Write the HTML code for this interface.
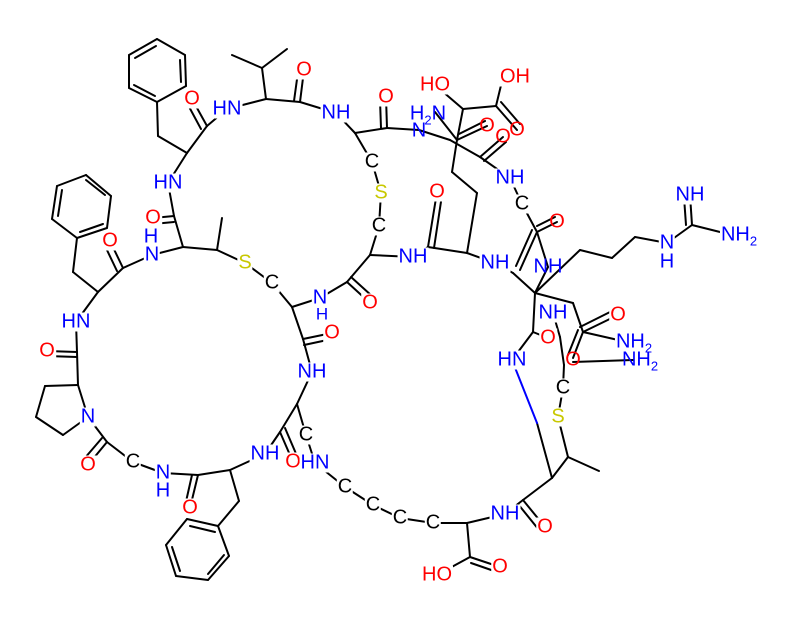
<!DOCTYPE html>
<html><head><meta charset="utf-8"><style>
html,body{margin:0;padding:0;background:#fff}
#w{position:relative;width:788px;height:622px;overflow:hidden}
svg{display:block;position:absolute;left:0;top:0}
line{stroke:#000;stroke-width:2;stroke-linecap:round}
.l{position:absolute;transform:translate(-50%,-50%);font-family:"Liberation Sans","DejaVu Sans",sans-serif;font-size:20px;line-height:19px;white-space:nowrap;background:#fff;padding:0 1px}
.l sub{font-size:13px;vertical-align:-5px;line-height:0}
.N{color:#0000ff}.O{color:#ff0000}.S{color:#c8c800}.C{color:#000}
.t{background:transparent}
</style></head><body><div id="w">
<svg width="788" height="622" viewBox="0 0 788 622" xmlns="http://www.w3.org/2000/svg">
<line x1="157" y1="39" x2="185" y2="55"/><line x1="185" y1="55" x2="186" y2="86"/><line x1="186" y1="86" x2="157" y2="102"/>
<line x1="157" y1="102" x2="129" y2="88"/><line x1="129" y1="88" x2="129" y2="55"/><line x1="129" y1="55" x2="157" y2="39"/>
<line x1="180" y1="60" x2="181" y2="82"/><line x1="155" y1="96" x2="134" y2="85"/><line x1="135" y1="58" x2="156" y2="46"/>
<line x1="157" y1="102" x2="158" y2="136"/><line x1="158" y1="136" x2="187" y2="153"/>
<line x1="187" y1="153" x2="207" y2="126"/><line x1="207" y1="126" x2="192" y2="99"/><line x1="201" y1="129" x2="187" y2="103"/>
<line x1="207" y1="126" x2="227" y2="109"/><line x1="227" y1="109" x2="266" y2="99"/>
<line x1="266" y1="99" x2="262" y2="68"/><line x1="262" y1="68" x2="232" y2="55"/><line x1="262" y1="68" x2="287" y2="49"/>
<line x1="266" y1="99" x2="300" y2="102"/><line x1="300" y1="102" x2="304" y2="70"/><line x1="294" y1="101" x2="298" y2="72"/>
<line x1="300" y1="102" x2="336" y2="113"/><line x1="336" y1="113" x2="355" y2="133"/>
<line x1="355" y1="133" x2="387" y2="128"/><line x1="387" y1="128" x2="386" y2="97"/><line x1="381" y1="128" x2="380" y2="100"/>
<line x1="387" y1="128" x2="419" y2="130"/>
<line x1="355" y1="133" x2="372" y2="162"/><line x1="372" y1="162" x2="381" y2="193"/><line x1="381" y1="193" x2="379" y2="226"/><line x1="379" y1="226" x2="370" y2="255"/>
<line x1="370" y1="255" x2="413" y2="257"/><line x1="370" y1="255" x2="347" y2="282"/>
<line x1="347" y1="282" x2="370" y2="303"/><line x1="351" y1="277" x2="372" y2="296"/>
<line x1="347" y1="282" x2="320" y2="298"/><line x1="320" y1="298" x2="292" y2="307"/>
<line x1="187" y1="153" x2="168" y2="183"/><line x1="168" y1="183" x2="174" y2="216"/>
<line x1="174" y1="216" x2="153" y2="218"/><line x1="174" y1="222" x2="153" y2="224"/>
<line x1="174" y1="216" x2="183" y2="247"/><line x1="183" y1="247" x2="217" y2="250"/>
<line x1="217" y1="250" x2="222" y2="218"/><line x1="217" y1="250" x2="245" y2="263"/><line x1="245" y1="263" x2="272" y2="283"/><line x1="272" y1="283" x2="292" y2="307"/>
<line x1="183" y1="247" x2="152" y2="255"/><line x1="152" y1="255" x2="123" y2="268"/>
<line x1="123" y1="268" x2="110" y2="241"/><line x1="117" y1="271" x2="106" y2="248"/>
<line x1="123" y1="268" x2="98" y2="292"/>
<line x1="98" y1="292" x2="73" y2="272"/><line x1="73" y1="272" x2="77" y2="238"/>
<line x1="77" y1="238" x2="107" y2="228"/><line x1="107" y1="228" x2="111" y2="196"/><line x1="111" y1="196" x2="86" y2="175"/>
<line x1="86" y1="175" x2="57" y2="186"/><line x1="57" y1="186" x2="52" y2="219"/><line x1="52" y1="219" x2="77" y2="238"/>
<line x1="80" y1="232" x2="103" y2="224"/><line x1="105" y1="195" x2="86" y2="180"/><line x1="62" y1="190" x2="58" y2="216"/>
<line x1="98" y1="292" x2="76" y2="322"/><line x1="76" y1="322" x2="77" y2="352"/>
<line x1="77" y1="352" x2="47" y2="351"/><line x1="77" y1="357" x2="47" y2="356"/>
<line x1="77" y1="352" x2="78" y2="385"/>
<line x1="78" y1="385" x2="45" y2="386"/><line x1="45" y1="386" x2="36" y2="417"/><line x1="36" y1="417" x2="63" y2="435"/><line x1="63" y1="435" x2="88" y2="417"/><line x1="88" y1="417" x2="78" y2="385"/>
<line x1="88" y1="417" x2="107" y2="442"/><line x1="107" y1="442" x2="88" y2="465"/><line x1="102" y1="438" x2="84" y2="459"/>
<line x1="107" y1="442" x2="133" y2="462"/><line x1="133" y1="462" x2="163" y2="473"/><line x1="163" y1="473" x2="198" y2="475"/>
<line x1="198" y1="475" x2="190" y2="508"/><line x1="192" y1="475" x2="185" y2="506"/>
<line x1="198" y1="475" x2="230" y2="470"/>
<line x1="230" y1="470" x2="239" y2="501"/><line x1="239" y1="501" x2="218" y2="526"/>
<line x1="218" y1="526" x2="187" y2="519"/><line x1="187" y1="519" x2="166" y2="545"/><line x1="166" y1="545" x2="176" y2="576"/>
<line x1="176" y1="576" x2="208" y2="580"/><line x1="208" y1="580" x2="229" y2="556"/><line x1="229" y1="556" x2="218" y2="526"/>
<line x1="215" y1="532" x2="190" y2="526"/><line x1="172" y1="547" x2="180" y2="571"/><line x1="208" y1="574" x2="224" y2="555"/>
<line x1="230" y1="470" x2="265" y2="454"/><line x1="265" y1="454" x2="280" y2="432"/>
<line x1="280" y1="432" x2="293" y2="462"/><line x1="285" y1="428" x2="297" y2="456"/>
<line x1="280" y1="432" x2="297" y2="404"/>
<line x1="297" y1="404" x2="312" y2="372"/><line x1="312" y1="372" x2="303" y2="339"/>
<line x1="303" y1="339" x2="332" y2="333"/><line x1="304" y1="345" x2="332" y2="339"/>
<line x1="303" y1="339" x2="292" y2="307"/>
<line x1="297" y1="404" x2="306" y2="435"/><line x1="306" y1="435" x2="315" y2="463"/><line x1="315" y1="463" x2="345" y2="487"/>
<line x1="345" y1="487" x2="373" y2="505"/><line x1="373" y1="505" x2="400" y2="518"/><line x1="400" y1="518" x2="433" y2="523"/><line x1="433" y1="523" x2="467" y2="523"/>
<line x1="467" y1="523" x2="470" y2="557"/><line x1="470" y1="557" x2="500" y2="567"/><line x1="471" y1="563" x2="497" y2="572"/>
<line x1="470" y1="557" x2="437" y2="575"/>
<line x1="467" y1="523" x2="505" y2="514"/><line x1="505" y1="514" x2="523" y2="500"/>
<line x1="523" y1="500" x2="545" y2="527"/><line x1="518" y1="504" x2="539" y2="530"/>
<line x1="523" y1="500" x2="552" y2="478"/>
<line x1="552" y1="478" x2="568" y2="457"/><line x1="568" y1="457" x2="599" y2="471"/>
<line x1="568" y1="457" x2="558" y2="417"/><line x1="558" y1="417" x2="563" y2="388"/><line x1="563" y1="388" x2="564" y2="365"/>
<line x1="564" y1="365" x2="560" y2="337"/><line x1="560" y1="337" x2="553" y2="313"/>
<line x1="552" y1="478" x2="537" y2="423"/><line x1="537" y1="423" x2="512" y2="360" style="stroke:#0000ff"/>
<line x1="512" y1="360" x2="533" y2="332"/><line x1="533" y1="332" x2="548" y2="338"/><line x1="533" y1="332" x2="535" y2="293"/>
<line x1="535" y1="293" x2="573" y2="303"/><line x1="573" y1="303" x2="583" y2="332"/>
<line x1="583" y1="332" x2="618" y2="315"/><line x1="580" y1="327" x2="614" y2="310"/>
<line x1="583" y1="332" x2="627" y2="342"/>
<line x1="583" y1="332" x2="573" y2="358"/><line x1="578" y1="330" x2="568" y2="355"/>
<line x1="573" y1="362" x2="633" y2="360"/>
<line x1="535" y1="293" x2="580" y2="250"/><line x1="580" y1="250" x2="612" y2="258"/><line x1="612" y1="258" x2="635" y2="237"/>
<line x1="635" y1="237" x2="667" y2="243"/><line x1="667" y1="243" x2="692" y2="225"/>
<line x1="692" y1="225" x2="690" y2="195"/><line x1="686" y1="225" x2="684" y2="197"/>
<line x1="692" y1="225" x2="732" y2="235"/>
<line x1="535" y1="293" x2="513" y2="273"/><line x1="513" y1="273" x2="495" y2="263"/><line x1="495" y1="263" x2="467" y2="253"/>
<line x1="467" y1="253" x2="428" y2="247"/><line x1="428" y1="247" x2="437" y2="192"/><line x1="434" y1="248" x2="442" y2="195"/>
<line x1="428" y1="247" x2="413" y2="257"/>
<line x1="467" y1="253" x2="477" y2="193"/><line x1="477" y1="193" x2="452" y2="172"/><line x1="452" y1="172" x2="457" y2="140"/><line x1="457" y1="140" x2="463" y2="109"/>
<line x1="463" y1="109" x2="435" y2="85"/><line x1="463" y1="109" x2="496" y2="106"/>
<line x1="496" y1="106" x2="503" y2="77"/><line x1="496" y1="106" x2="517" y2="130"/><line x1="501" y1="102" x2="520" y2="124"/>
<line x1="435" y1="112" x2="457" y2="140"/><line x1="457" y1="140" x2="487" y2="126"/><line x1="459" y1="134" x2="485" y2="121"/>
<line x1="419" y1="130" x2="450" y2="140"/><line x1="450" y1="140" x2="480" y2="157"/>
<line x1="480" y1="157" x2="503" y2="137"/><line x1="484" y1="161" x2="506" y2="142"/>
<line x1="480" y1="157" x2="510" y2="178"/><line x1="510" y1="178" x2="522" y2="204"/><line x1="522" y1="204" x2="537" y2="232"/>
<line x1="537" y1="232" x2="557" y2="222"/><line x1="537" y1="226" x2="555" y2="217"/>
<line x1="537" y1="232" x2="520" y2="270"/><line x1="532" y1="230" x2="516" y2="266"/>
<line x1="537" y1="232" x2="548" y2="267"/><line x1="548" y1="267" x2="535" y2="293"/>
</svg>
<span class="l O" style="left:192px;top:99px">O</span>
<span class="l N" style="left:227px;top:109px">HN</span>
<span class="l O" style="left:304px;top:70px">O</span>
<span class="l N" style="left:336px;top:113px">NH</span>
<span class="l O" style="left:386px;top:97px">O</span>
<span class="l C" style="left:372px;top:162px">C</span>
<span class="l S" style="left:381px;top:193px">S</span>
<span class="l C" style="left:379px;top:226px">C</span>
<span class="l N" style="left:413px;top:257px">NH</span>
<span class="l O" style="left:370px;top:303px">O</span>
<span class="l N" style="left:320px;top:298px">N</span>
<span class="l N t" style="left:322px;top:314px;font-size:17px">H</span>
<span class="l N" style="left:168px;top:183px">HN</span>
<span class="l O" style="left:153px;top:218px">O</span>
<span class="l S" style="left:245px;top:263px">S</span>
<span class="l C" style="left:272px;top:283px">C</span>
<span class="l N" style="left:152px;top:255px">N</span>
<span class="l N" style="left:151px;top:237px">H</span>
<span class="l O" style="left:110px;top:241px">O</span>
<span class="l N" style="left:76px;top:322px">HN</span>
<span class="l O" style="left:47px;top:351px">O</span>
<span class="l N" style="left:88px;top:417px">N</span>
<span class="l O" style="left:88px;top:465px">O</span>
<span class="l C" style="left:133px;top:462px">C</span>
<span class="l N" style="left:163px;top:473px">N</span>
<span class="l N" style="left:163px;top:491px">H</span>
<span class="l O" style="left:190px;top:508px">O</span>
<span class="l N" style="left:265px;top:454px">NH</span>
<span class="l O" style="left:293px;top:462px">O</span>
<span class="l N" style="left:312px;top:372px">NH</span>
<span class="l O" style="left:332px;top:333px">O</span>
<span class="l C" style="left:306px;top:435px">C</span>
<span class="l N" style="left:315px;top:463px">HN</span>
<span class="l C" style="left:345px;top:487px">C</span>
<span class="l C" style="left:373px;top:505px">C</span>
<span class="l C" style="left:400px;top:518px">C</span>
<span class="l C" style="left:433px;top:523px">C</span>
<span class="l O" style="left:500px;top:567px">O</span>
<span class="l O" style="left:437px;top:575px">HO</span>
<span class="l N" style="left:505px;top:514px">NH</span>
<span class="l O" style="left:545px;top:527px">O</span>
<span class="l S" style="left:558px;top:417px">S</span>
<span class="l C" style="left:563px;top:388px">C</span>
<span class="l N" style="left:512px;top:360px">HN</span>
<span class="l O" style="left:548px;top:338px">O</span>
<span class="l N" style="left:553px;top:313px">NH</span>
<span class="l O" style="left:618px;top:315px">O</span>
<span class="l N" style="left:634px;top:342px">NH<sub>2</sub></span>
<span class="l O t" style="left:573px;top:360px">O</span>
<span class="l N t" style="left:640px;top:360px">NH<sub>2</sub></span>
<span class="l N" style="left:667px;top:243px">N</span>
<span class="l N" style="left:667px;top:262px">H</span>
<span class="l N" style="left:690px;top:195px">NH</span>
<span class="l N" style="left:739px;top:235px">NH<sub>2</sub></span>
<span class="l N" style="left:495px;top:263px">NH</span>
<span class="l O" style="left:437px;top:192px">O</span>
<span class="l O" style="left:435px;top:85px">HO</span>
<span class="l O" style="left:515px;top:77px">OH</span>
<span class="l O t" style="left:517px;top:130px">O</span>
<span class="l O t" style="left:487px;top:126px">O</span>
<span class="l O t" style="left:503px;top:137px">O</span>
<span class="l N t" style="left:428px;top:114px">H<sub>2</sub>N</span>
<span class="l N t" style="left:419px;top:131px">N</span>
<span class="l N" style="left:510px;top:178px">NH</span>
<span class="l C" style="left:522px;top:204px">C</span>
<span class="l O t" style="left:557px;top:222px">O</span>
<span class="l N t" style="left:548px;top:267px">NH</span>
</div></body></html>
